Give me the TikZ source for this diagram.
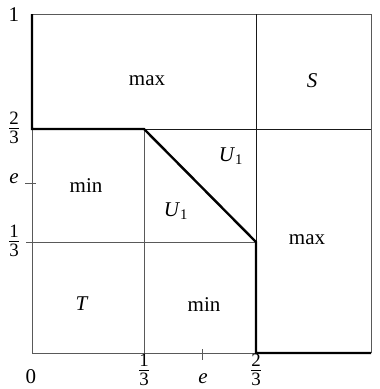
\documentclass[tikz,border=0pt]{standalone}
\usepackage{amsmath}
\usepackage{fontspec}
\setmainfont{Liberation Serif}
\begin{document}
\begin{tikzpicture}[x=1pt,y=-1pt,
  thinline/.style={draw=black!65,line width=0.9pt},
  darkline/.style={draw=black!90,line width=0.9pt},
  thickline/.style={draw=black,line width=2.4pt,line join=miter},
  lab/.style={inner sep=0pt,font=\fontsize{21}{25}\selectfont},
  fraclab/.style={inner sep=0pt,font=\fontsize{27}{30}\selectfont},
]
\useasboundingbox (0,0) rectangle (380,389);
% corner points
\coordinate (TL) at (32,14);
\coordinate (TR) at (371,14);
\coordinate (BR) at (371,353);
\coordinate (BL) at (32,353);
\coordinate (L2) at (32,129);
\coordinate (L1) at (26,242);
\coordinate (A) at (144,129);
\coordinate (B) at (256,242);
\coordinate (B0) at (256,353);
\coordinate (A0) at (144,357);
\coordinate (R2) at (371,129);
\coordinate (T2) at (256,14);
\coordinate (eL1) at (25,183);
\coordinate (eL2) at (36,183);
\coordinate (eB1) at (202,349);
\coordinate (eB2) at (202,360);
% thin lines
\draw[thinline] (TL) -- (TR) -- (BR);
\draw[thinline] (L2) -- (BL) -- (B0);
\draw[thinline] (A) -- (A0);
\draw[darkline] (T2) -- (B);
\draw[darkline] (A) -- (R2);
\draw[thinline] (L1) -- (B);
\draw[thinline] (eL1) -- (eL2);
\draw[thinline] (eB1) -- (eB2);
% thick boundary
\draw[thickline] (TL) -- (L2) -- (A) -- (B) -- (B0) -- (BR);
% axis labels
\node[lab] (y1) at (14,15) {1};
\node[fraclab] (y23) at (14,128) {$\frac{\text{2}}{\text{3}}$};
\node[lab] (ye) at (14,179) {\textit{e}};
\node[fraclab] (y13) at (14,241) {$\frac{\text{1}}{\text{3}}$};
\node[lab] (x0) at (31,377) {0};
\node[fraclab] (x13) at (144,370) {$\frac{\text{1}}{\text{3}}$};
\node[lab] (xe) at (203,379) {\textit{e}};
\node[fraclab] (x23) at (256,370) {$\frac{\text{2}}{\text{3}}$};
% region labels
\node[lab] (max1) at (147,81) {max};
\node[lab] (S) at (312,81) {\textit{S}};
\node[lab] (U1a) at (231,156) {\textit{U}$_{\text{1}}$};
\node[lab] (min1) at (86,186) {min};
\node[lab] (U1b) at (176,211) {\textit{U}$_{\text{1}}$};
\node[lab] (max2) at (307,240) {max};
\node[lab] (T) at (82,304) {\textit{T}};
\node[lab] (min2) at (204,305) {min};
\end{tikzpicture}
\end{document}
